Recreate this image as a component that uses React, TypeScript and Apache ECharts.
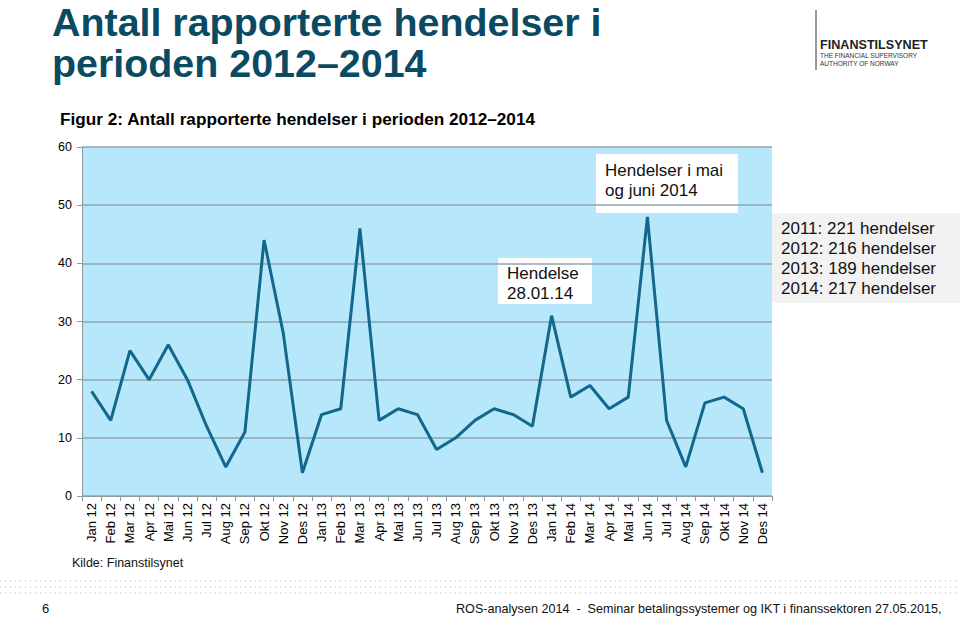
import React, { useEffect, useRef } from "react";
import * as echarts from "echarts";

const months = [
  "Jan 12", "Feb 12", "Mar 12", "Apr 12", "Mai 12", "Jun 12", "Jul 12", "Aug 12", "Sep 12", "Okt 12", "Nov 12", "Des 12",
  "Jan 13", "Feb 13", "Mar 13", "Apr 13", "Mai 13", "Jun 13", "Jul 13", "Aug 13", "Sep 13", "Okt 13", "Nov 13", "Des 13",
  "Jan 14", "Feb 14", "Mar 14", "Apr 14", "Mai 14", "Jun 14", "Jul 14", "Aug 14", "Sep 14", "Okt 14", "Nov 14", "Des 14",
];
const events = [
  18, 13, 25, 20, 26, 20, 12, 5, 11, 44, 28, 4,
  14, 15, 46, 13, 15, 14, 8, 10, 13, 15, 14, 12,
  31, 17, 19, 15, 17, 48, 13, 5, 16, 17, 15, 4,
];
const yearTotals = ["2011: 221 hendelser", "2012: 216 hendelser", "2013: 189 hendelser", "2014: 217 hendelser"];

const FONT = "'Liberation Sans', Arial, sans-serif";

export default function App() {
  const ref = useRef<HTMLDivElement>(null);
  useEffect(() => {
    if (!ref.current) return;
    const chart = echarts.init(ref.current, undefined, { renderer: "svg" });
    const dots: any[] = [];
    [581, 587, 593].forEach((y) =>
      dots.push({
        type: "line",
        shape: { x1: 0, y1: y, x2: 960, y2: y },
        style: { stroke: "#b0b0b0", lineWidth: 1, lineDash: [1, 4] },
      })
    );
    chart.setOption({
      animation: false,
      backgroundColor: "#ffffff",
      textStyle: { fontFamily: FONT },
      grid: {
        left: 82, right: 188, top: 147, bottom: 122,
        show: true, backgroundColor: "#b6e7fa", borderWidth: 0,
      },
      xAxis: {
        type: "category",
        data: months,
        boundaryGap: true,
        axisLine: { lineStyle: { color: "#8c9aa2", width: 1 } },
        axisTick: { show: true, length: 5, lineStyle: { color: "#8c9aa2" } },
        axisLabel: { rotate: 90, fontSize: 13, color: "#000", fontFamily: FONT, margin: 7 },
      },
      yAxis: {
        type: "value",
        min: 0, max: 60, interval: 10,
        axisLine: { show: true, lineStyle: { color: "#8c9aa2", width: 1 } },
        axisTick: { show: true, length: 5, lineStyle: { color: "#8c9aa2" } },
        splitLine: { show: true, lineStyle: { color: "#8fa4ad", width: 1.5 } },
        axisLabel: { fontSize: 12.5, color: "#000", fontFamily: FONT, margin: 10 },
      },
      series: [
        {
          type: "line",
          data: events,
          symbol: "none",
          lineStyle: { color: "#12688c", width: 3 },
        },
      ],
      graphic: [
        {
          type: "text", left: 52, top: 2,
          style: {
            text: "Antall rapporterte hendelser i",
            font: `bold 39.4px ${FONT}`, fill: "#0b4a63", lineHeight: 40,
          },
        },
        {
          type: "text", left: 52, top: 43,
          style: {
            text: "perioden 2012–2014",
            font: `bold 39.4px ${FONT}`, fill: "#0b4a63", lineHeight: 40,
          },
        },
        {
          type: "text", left: 60, top: 110,
          style: {
            text: "Figur 2: Antall rapporterte hendelser i perioden 2012–2014",
            font: `bold 17.2px ${FONT}`, fill: "#000",
          },
        },
        {
          type: "line", shape: { x1: 816, y1: 10, x2: 816, y2: 70 },
          style: { stroke: "#333", lineWidth: 1 },
        },
        {
          type: "text", left: 820, top: 38,
          style: { text: "FINANSTILSYNET", font: `bold 12.6px ${FONT}`, fill: "#222" },
        },
        {
          type: "text", left: 820, top: 52,
          style: { text: "THE FINANCIAL SUPERVISORY\nAUTHORITY OF NORWAY", font: `6.5px ${FONT}`, fill: "#333", lineHeight: 7.5 },
        },
        {
          type: "rect", shape: { x: 498, y: 258, width: 94, height: 46 },
          style: { fill: "#ffffff" },
        },
        {
          type: "text", left: 507, top: 263,
          style: { text: "Hendelse\n28.01.14", font: `17px ${FONT}`, fill: "#111", lineHeight: 20 },
        },
        {
          type: "rect", shape: { x: 596, y: 154, width: 142, height: 59 },
          style: { fill: "#ffffff" },
        },
        {
          type: "text", left: 605, top: 160,
          style: { text: "Hendelser i mai\nog juni 2014", font: `17px ${FONT}`, fill: "#111", lineHeight: 20.5 },
        },
        {
          type: "rect", shape: { x: 772, y: 213, width: 188, height: 90 },
          style: { fill: "#f2f2f2" },
        },
        {
          type: "text", left: 781, top: 218,
          style: { text: yearTotals.join("\n"), font: `17px ${FONT}`, fill: "#111", lineHeight: 20 },
        },
        {
          type: "text", left: 72, top: 556,
          style: { text: "Kilde: Finanstilsynet", font: `12.5px ${FONT}`, fill: "#111" },
        },
        ...dots,
        {
          type: "text", left: 42, top: 602,
          style: { text: "6", font: `13px ${FONT}`, fill: "#111" },
        },
        {
          type: "text", left: 456, top: 602,
          style: {
            text: "ROS-analysen 2014  -  Seminar betalingssystemer og IKT i finanssektoren 27.05.2015,",
            font: `12.6px ${FONT}`, fill: "#111",
          },
        },
      ],
    });
    return () => chart.dispose();
  }, []);
  return (
    <div
      ref={ref}
      style={{ position: "fixed", left: 0, top: 0, width: 960, height: 618 }}
    />
  );
}
